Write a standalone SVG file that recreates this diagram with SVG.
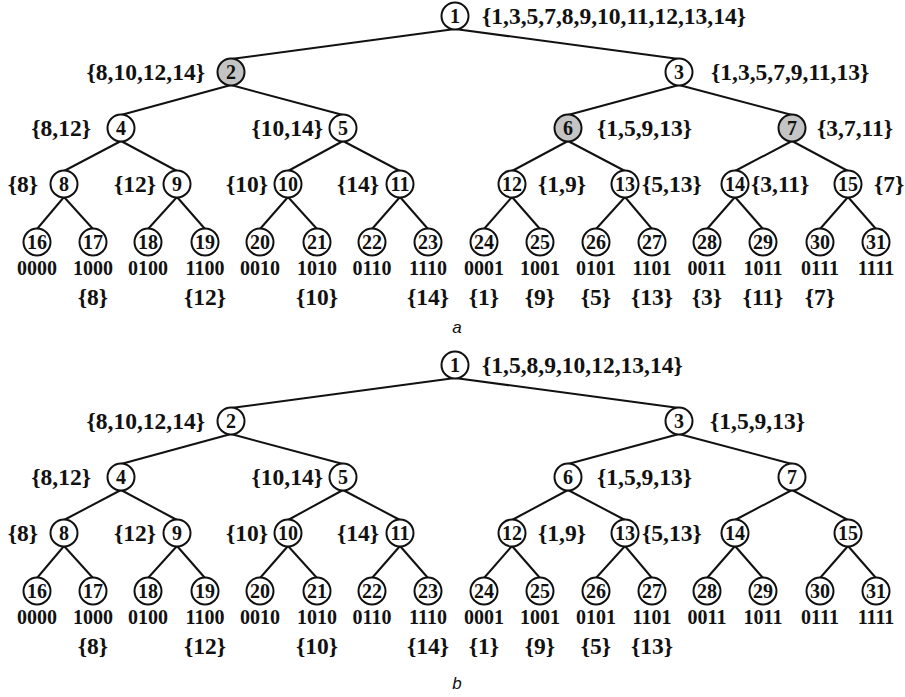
<svg xmlns="http://www.w3.org/2000/svg" width="905" height="697" viewBox="0 0 905 697">
  <style>
    .edge { stroke: #111; stroke-width: 2; fill: none; }
    .node circle { fill: #fff; stroke: #111; stroke-width: 2; }
    .node.hit circle { fill: #c4c4c4; }
    text { font-family: "Liberation Serif", "Times New Roman", serif; font-weight: bold; fill: #111; }
    text.n { font-size: 20px; text-anchor: middle; }
    text.set { font-size: 23.5px; text-anchor: start; }
    text.set.end { text-anchor: end; }
    text.set.mid { text-anchor: middle; }
    text.code { font-size: 20px; text-anchor: middle; }
    text.cap { font-family: "Liberation Sans", Arial, sans-serif; font-weight: normal; font-style: italic; font-size: 17px; text-anchor: middle; }
  </style>

  <!-- Tree a -->
  <g id="tree-a">
    <g id="a-connectors">
      <line class="edge" x1="455" y1="29" x2="231" y2="59"/>
      <line class="edge" x1="455" y1="29" x2="679" y2="59"/>
      <line class="edge" x1="231" y1="85" x2="121" y2="115"/>
      <line class="edge" x1="231" y1="85" x2="343" y2="115"/>
      <line class="edge" x1="679" y1="85" x2="568" y2="115"/>
      <line class="edge" x1="679" y1="85" x2="792" y2="115"/>
      <line class="edge" x1="121" y1="141" x2="64" y2="171"/>
      <line class="edge" x1="121" y1="141" x2="177" y2="171"/>
      <line class="edge" x1="343" y1="141" x2="288" y2="171"/>
      <line class="edge" x1="343" y1="141" x2="400" y2="171"/>
      <line class="edge" x1="568" y1="141" x2="512" y2="171"/>
      <line class="edge" x1="568" y1="141" x2="625" y2="171"/>
      <line class="edge" x1="792" y1="141" x2="735" y2="171"/>
      <line class="edge" x1="792" y1="141" x2="848" y2="171"/>
      <line class="edge" x1="64" y1="197" x2="37" y2="229"/>
      <line class="edge" x1="64" y1="197" x2="93" y2="229"/>
      <line class="edge" x1="177" y1="197" x2="148" y2="229"/>
      <line class="edge" x1="177" y1="197" x2="205" y2="229"/>
      <line class="edge" x1="288" y1="197" x2="260" y2="229"/>
      <line class="edge" x1="288" y1="197" x2="317" y2="229"/>
      <line class="edge" x1="400" y1="197" x2="372" y2="229"/>
      <line class="edge" x1="400" y1="197" x2="428" y2="229"/>
      <line class="edge" x1="512" y1="197" x2="484" y2="229"/>
      <line class="edge" x1="512" y1="197" x2="540" y2="229"/>
      <line class="edge" x1="625" y1="197" x2="596" y2="229"/>
      <line class="edge" x1="625" y1="197" x2="652" y2="229"/>
      <line class="edge" x1="735" y1="197" x2="707" y2="229"/>
      <line class="edge" x1="735" y1="197" x2="763" y2="229"/>
      <line class="edge" x1="848" y1="197" x2="820" y2="229"/>
      <line class="edge" x1="848" y1="197" x2="876" y2="229"/>
    </g>

    <g id="a-n1" class="node"><circle cx="455" cy="16" r="13.5"/><text class="n" x="455" y="23">1</text><text class="set" x="482" y="24">{1,3,5,7,8,9,10,11,12,13,14}</text></g>
    <g id="a-n2" class="node hit"><circle cx="231" cy="72" r="13.5"/><text class="n" x="231" y="79">2</text><text class="set end" x="205" y="80">{8,10,12,14}</text></g>
    <g id="a-n3" class="node"><circle cx="679" cy="72" r="13.5"/><text class="n" x="679" y="79">3</text><text class="set" x="711" y="80">{1,3,5,7,9,11,13}</text></g>
    <g id="a-n4" class="node"><circle cx="121" cy="128" r="13.5"/><text class="n" x="121" y="135">4</text><text class="set end" x="91" y="136">{8,12}</text></g>
    <g id="a-n5" class="node"><circle cx="343" cy="128" r="13.5"/><text class="n" x="343" y="135">5</text><text class="set end" x="323" y="136">{10,14}</text></g>
    <g id="a-n6" class="node hit"><circle cx="568" cy="128" r="13.5"/><text class="n" x="568" y="135">6</text><text class="set" x="597" y="136">{1,5,9,13}</text></g>
    <g id="a-n7" class="node hit"><circle cx="792" cy="128" r="13.5"/><text class="n" x="792" y="135">7</text><text class="set" x="817" y="136">{3,7,11}</text></g>
    <g id="a-n8" class="node"><circle cx="64" cy="184" r="13.5"/><text class="n" x="64" y="191">8</text><text class="set end" x="38" y="192">{8}</text></g>
    <g id="a-n9" class="node"><circle cx="177" cy="184" r="13.5"/><text class="n" x="177" y="191">9</text><text class="set end" x="156" y="192">{12}</text></g>
    <g id="a-n10" class="node"><circle cx="288" cy="184" r="13.5"/><text class="n" x="288" y="191">10</text><text class="set end" x="268" y="192">{10}</text></g>
    <g id="a-n11" class="node"><circle cx="400" cy="184" r="13.5"/><text class="n" x="400" y="191">11</text><text class="set end" x="379" y="192">{14}</text></g>
    <g id="a-n12" class="node"><circle cx="512" cy="184" r="13.5"/><text class="n" x="512" y="191">12</text><text class="set" x="538" y="192">{1,9}</text></g>
    <g id="a-n13" class="node"><circle cx="625" cy="184" r="13.5"/><text class="n" x="625" y="191">13</text><text class="set" x="642" y="192">{5,13}</text></g>
    <g id="a-n14" class="node"><circle cx="735" cy="184" r="13.5"/><text class="n" x="735" y="191">14</text><text class="set" x="751" y="192">{3,11}</text></g>
    <g id="a-n15" class="node"><circle cx="848" cy="184" r="13.5"/><text class="n" x="848" y="191">15</text><text class="set" x="874" y="192">{7}</text></g>

    <g id="a-n16" class="node"><circle cx="37" cy="242" r="13.5"/><text class="n" x="37" y="249">16</text><text class="code" x="37" y="275">0000</text></g>
    <g id="a-n17" class="node"><circle cx="93" cy="242" r="13.5"/><text class="n" x="93" y="249">17</text><text class="code" x="93" y="275">1000</text><text class="set mid" x="93" y="305">{8}</text></g>
    <g id="a-n18" class="node"><circle cx="148" cy="242" r="13.5"/><text class="n" x="148" y="249">18</text><text class="code" x="148" y="275">0100</text></g>
    <g id="a-n19" class="node"><circle cx="205" cy="242" r="13.5"/><text class="n" x="205" y="249">19</text><text class="code" x="205" y="275">1100</text><text class="set mid" x="205" y="305">{12}</text></g>
    <g id="a-n20" class="node"><circle cx="260" cy="242" r="13.5"/><text class="n" x="260" y="249">20</text><text class="code" x="260" y="275">0010</text></g>
    <g id="a-n21" class="node"><circle cx="317" cy="242" r="13.5"/><text class="n" x="317" y="249">21</text><text class="code" x="317" y="275">1010</text><text class="set mid" x="317" y="305">{10}</text></g>
    <g id="a-n22" class="node"><circle cx="372" cy="242" r="13.5"/><text class="n" x="372" y="249">22</text><text class="code" x="372" y="275">0110</text></g>
    <g id="a-n23" class="node"><circle cx="428" cy="242" r="13.5"/><text class="n" x="428" y="249">23</text><text class="code" x="428" y="275">1110</text><text class="set mid" x="428" y="305">{14}</text></g>
    <g id="a-n24" class="node"><circle cx="484" cy="242" r="13.5"/><text class="n" x="484" y="249">24</text><text class="code" x="484" y="275">0001</text><text class="set mid" x="484" y="305">{1}</text></g>
    <g id="a-n25" class="node"><circle cx="540" cy="242" r="13.5"/><text class="n" x="540" y="249">25</text><text class="code" x="540" y="275">1001</text><text class="set mid" x="540" y="305">{9}</text></g>
    <g id="a-n26" class="node"><circle cx="596" cy="242" r="13.5"/><text class="n" x="596" y="249">26</text><text class="code" x="596" y="275">0101</text><text class="set mid" x="596" y="305">{5}</text></g>
    <g id="a-n27" class="node"><circle cx="652" cy="242" r="13.5"/><text class="n" x="652" y="249">27</text><text class="code" x="652" y="275">1101</text><text class="set mid" x="652" y="305">{13}</text></g>
    <g id="a-n28" class="node"><circle cx="707" cy="242" r="13.5"/><text class="n" x="707" y="249">28</text><text class="code" x="707" y="275">0011</text><text class="set mid" x="707" y="305">{3}</text></g>
    <g id="a-n29" class="node"><circle cx="763" cy="242" r="13.5"/><text class="n" x="763" y="249">29</text><text class="code" x="763" y="275">1011</text><text class="set mid" x="763" y="305">{11}</text></g>
    <g id="a-n30" class="node"><circle cx="820" cy="242" r="13.5"/><text class="n" x="820" y="249">30</text><text class="code" x="820" y="275">0111</text><text class="set mid" x="820" y="305">{7}</text></g>
    <g id="a-n31" class="node"><circle cx="876" cy="242" r="13.5"/><text class="n" x="876" y="249">31</text><text class="code" x="876" y="275">1111</text></g>

    <text class="cap" x="457" y="333">a</text>
  </g>

  <!-- Tree b: same layout, shifted down -->
  <g id="tree-b" transform="translate(0,349)">
    <g id="b-connectors">
      <line class="edge" x1="455" y1="29" x2="231" y2="59"/>
      <line class="edge" x1="455" y1="29" x2="679" y2="59"/>
      <line class="edge" x1="231" y1="85" x2="121" y2="115"/>
      <line class="edge" x1="231" y1="85" x2="343" y2="115"/>
      <line class="edge" x1="679" y1="85" x2="568" y2="115"/>
      <line class="edge" x1="679" y1="85" x2="792" y2="115"/>
      <line class="edge" x1="121" y1="141" x2="64" y2="171"/>
      <line class="edge" x1="121" y1="141" x2="177" y2="171"/>
      <line class="edge" x1="343" y1="141" x2="288" y2="171"/>
      <line class="edge" x1="343" y1="141" x2="400" y2="171"/>
      <line class="edge" x1="568" y1="141" x2="512" y2="171"/>
      <line class="edge" x1="568" y1="141" x2="625" y2="171"/>
      <line class="edge" x1="792" y1="141" x2="735" y2="171"/>
      <line class="edge" x1="792" y1="141" x2="848" y2="171"/>
      <line class="edge" x1="64" y1="197" x2="37" y2="229"/>
      <line class="edge" x1="64" y1="197" x2="93" y2="229"/>
      <line class="edge" x1="177" y1="197" x2="148" y2="229"/>
      <line class="edge" x1="177" y1="197" x2="205" y2="229"/>
      <line class="edge" x1="288" y1="197" x2="260" y2="229"/>
      <line class="edge" x1="288" y1="197" x2="317" y2="229"/>
      <line class="edge" x1="400" y1="197" x2="372" y2="229"/>
      <line class="edge" x1="400" y1="197" x2="428" y2="229"/>
      <line class="edge" x1="512" y1="197" x2="484" y2="229"/>
      <line class="edge" x1="512" y1="197" x2="540" y2="229"/>
      <line class="edge" x1="625" y1="197" x2="596" y2="229"/>
      <line class="edge" x1="625" y1="197" x2="652" y2="229"/>
      <line class="edge" x1="735" y1="197" x2="707" y2="229"/>
      <line class="edge" x1="735" y1="197" x2="763" y2="229"/>
      <line class="edge" x1="848" y1="197" x2="820" y2="229"/>
      <line class="edge" x1="848" y1="197" x2="876" y2="229"/>
    </g>

    <g id="b-n1" class="node"><circle cx="455" cy="16" r="13.5"/><text class="n" x="455" y="23">1</text><text class="set" x="482" y="24">{1,5,8,9,10,12,13,14}</text></g>
    <g id="b-n2" class="node"><circle cx="231" cy="72" r="13.5"/><text class="n" x="231" y="79">2</text><text class="set end" x="205" y="80">{8,10,12,14}</text></g>
    <g id="b-n3" class="node"><circle cx="679" cy="72" r="13.5"/><text class="n" x="679" y="79">3</text><text class="set" x="710" y="80">{1,5,9,13}</text></g>
    <g id="b-n4" class="node"><circle cx="121" cy="128" r="13.5"/><text class="n" x="121" y="135">4</text><text class="set end" x="91" y="136">{8,12}</text></g>
    <g id="b-n5" class="node"><circle cx="343" cy="128" r="13.5"/><text class="n" x="343" y="135">5</text><text class="set end" x="323" y="136">{10,14}</text></g>
    <g id="b-n6" class="node"><circle cx="568" cy="128" r="13.5"/><text class="n" x="568" y="135">6</text><text class="set" x="597" y="136">{1,5,9,13}</text></g>
    <g id="b-n7" class="node"><circle cx="792" cy="128" r="13.5"/><text class="n" x="792" y="135">7</text></g>
    <g id="b-n8" class="node"><circle cx="64" cy="184" r="13.5"/><text class="n" x="64" y="191">8</text><text class="set end" x="38" y="192">{8}</text></g>
    <g id="b-n9" class="node"><circle cx="177" cy="184" r="13.5"/><text class="n" x="177" y="191">9</text><text class="set end" x="156" y="192">{12}</text></g>
    <g id="b-n10" class="node"><circle cx="288" cy="184" r="13.5"/><text class="n" x="288" y="191">10</text><text class="set end" x="268" y="192">{10}</text></g>
    <g id="b-n11" class="node"><circle cx="400" cy="184" r="13.5"/><text class="n" x="400" y="191">11</text><text class="set end" x="379" y="192">{14}</text></g>
    <g id="b-n12" class="node"><circle cx="512" cy="184" r="13.5"/><text class="n" x="512" y="191">12</text><text class="set" x="538" y="192">{1,9}</text></g>
    <g id="b-n13" class="node"><circle cx="625" cy="184" r="13.5"/><text class="n" x="625" y="191">13</text><text class="set" x="642" y="192">{5,13}</text></g>
    <g id="b-n14" class="node"><circle cx="735" cy="184" r="13.5"/><text class="n" x="735" y="191">14</text></g>
    <g id="b-n15" class="node"><circle cx="848" cy="184" r="13.5"/><text class="n" x="848" y="191">15</text></g>

    <g id="b-n16" class="node"><circle cx="37" cy="242" r="13.5"/><text class="n" x="37" y="249">16</text><text class="code" x="37" y="275">0000</text></g>
    <g id="b-n17" class="node"><circle cx="93" cy="242" r="13.5"/><text class="n" x="93" y="249">17</text><text class="code" x="93" y="275">1000</text><text class="set mid" x="93" y="305">{8}</text></g>
    <g id="b-n18" class="node"><circle cx="148" cy="242" r="13.5"/><text class="n" x="148" y="249">18</text><text class="code" x="148" y="275">0100</text></g>
    <g id="b-n19" class="node"><circle cx="205" cy="242" r="13.5"/><text class="n" x="205" y="249">19</text><text class="code" x="205" y="275">1100</text><text class="set mid" x="205" y="305">{12}</text></g>
    <g id="b-n20" class="node"><circle cx="260" cy="242" r="13.5"/><text class="n" x="260" y="249">20</text><text class="code" x="260" y="275">0010</text></g>
    <g id="b-n21" class="node"><circle cx="317" cy="242" r="13.5"/><text class="n" x="317" y="249">21</text><text class="code" x="317" y="275">1010</text><text class="set mid" x="317" y="305">{10}</text></g>
    <g id="b-n22" class="node"><circle cx="372" cy="242" r="13.5"/><text class="n" x="372" y="249">22</text><text class="code" x="372" y="275">0110</text></g>
    <g id="b-n23" class="node"><circle cx="428" cy="242" r="13.5"/><text class="n" x="428" y="249">23</text><text class="code" x="428" y="275">1110</text><text class="set mid" x="428" y="305">{14}</text></g>
    <g id="b-n24" class="node"><circle cx="484" cy="242" r="13.5"/><text class="n" x="484" y="249">24</text><text class="code" x="484" y="275">0001</text><text class="set mid" x="484" y="305">{1}</text></g>
    <g id="b-n25" class="node"><circle cx="540" cy="242" r="13.5"/><text class="n" x="540" y="249">25</text><text class="code" x="540" y="275">1001</text><text class="set mid" x="540" y="305">{9}</text></g>
    <g id="b-n26" class="node"><circle cx="596" cy="242" r="13.5"/><text class="n" x="596" y="249">26</text><text class="code" x="596" y="275">0101</text><text class="set mid" x="596" y="305">{5}</text></g>
    <g id="b-n27" class="node"><circle cx="652" cy="242" r="13.5"/><text class="n" x="652" y="249">27</text><text class="code" x="652" y="275">1101</text><text class="set mid" x="652" y="305">{13}</text></g>
    <g id="b-n28" class="node"><circle cx="707" cy="242" r="13.5"/><text class="n" x="707" y="249">28</text><text class="code" x="707" y="275">0011</text></g>
    <g id="b-n29" class="node"><circle cx="763" cy="242" r="13.5"/><text class="n" x="763" y="249">29</text><text class="code" x="763" y="275">1011</text></g>
    <g id="b-n30" class="node"><circle cx="820" cy="242" r="13.5"/><text class="n" x="820" y="249">30</text><text class="code" x="820" y="275">0111</text></g>
    <g id="b-n31" class="node"><circle cx="876" cy="242" r="13.5"/><text class="n" x="876" y="249">31</text><text class="code" x="876" y="275">1111</text></g>

    <text class="cap" x="457" y="340">b</text>
  </g>
</svg>
